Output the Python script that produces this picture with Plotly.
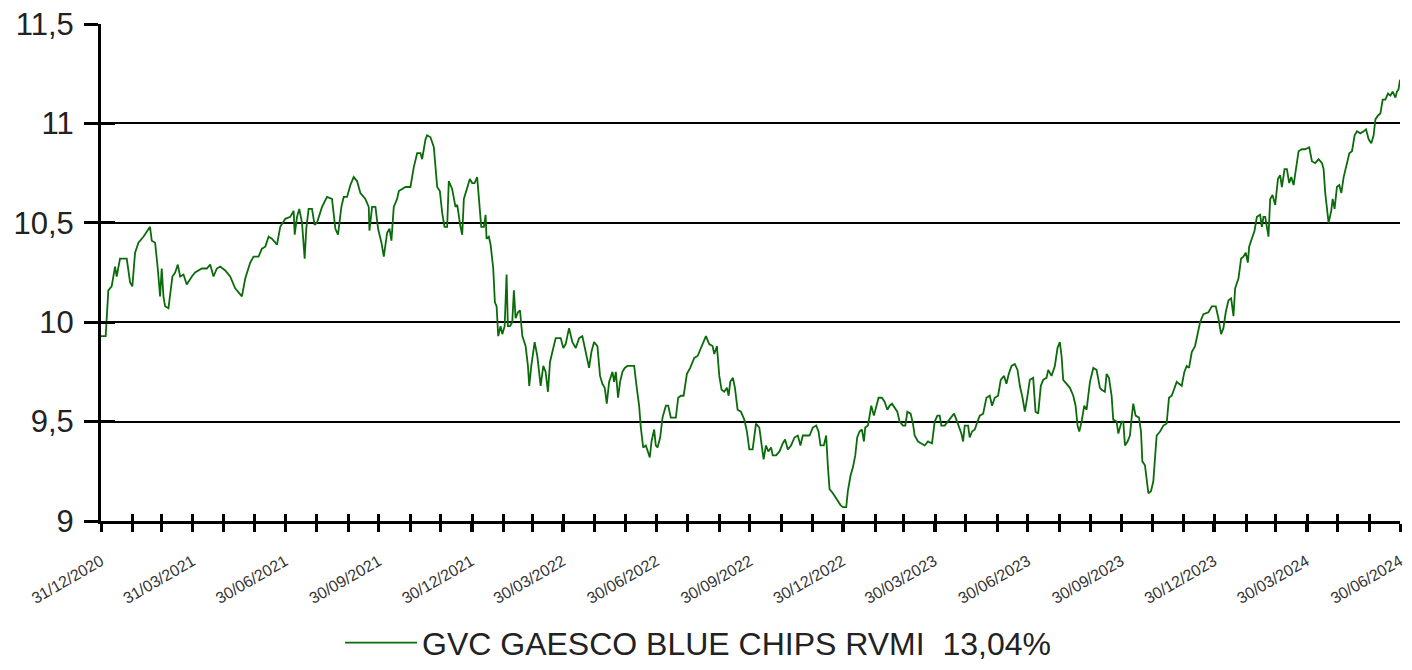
import pandas as pd
import plotly.graph_objects as go

# ---- data: (days since 31/12/2020, NAV) ----
seg_2021 = [(0,9.93),(4.6,9.93),(7.2,10.16),(10.5,10.18),(13.8,10.28),(15.4,10.23),(18.7,10.32),(25.3,10.32),
 (28.6,10.20),(30.8,10.18),(33.5,10.35),(36.8,10.40),(41.7,10.43),(46.6,10.47),(48.2,10.48),(49.9,10.41),
 (53.2,10.40),(55.8,10.27),(58.1,10.13),(59.7,10.27),(61.4,10.13),(63.0,10.08),(66.3,10.07),(70.2,10.23),
 (72.9,10.25),(75.5,10.29),(77.8,10.23),(81.1,10.24),(84.3,10.19),(89.3,10.23),(92.5,10.25),(99.1,10.27),
 (104.0,10.27),(107.3,10.29),(110.6,10.23),(113.9,10.27),(117.2,10.28),(122.1,10.26),(127.0,10.23),
 (131.9,10.17),(135.2,10.15),(138.5,10.13),(141.8,10.22),(146.7,10.30),(150.0,10.33),(154.9,10.33),
 (158.2,10.37),(161.5,10.38),(164.8,10.43),(168.0,10.42),(173.0,10.39),(176.2,10.48),(181.2,10.52),
 (186.1,10.53),(189.4,10.56),(190.4,10.44),(192.7,10.53),(194.9,10.57),(197.6,10.50),(200.2,10.32),
 (201.8,10.47),(204.1,10.57),(207.4,10.57),(210.0,10.49),(212.3,10.50),(217.3,10.58),(222.2,10.63),
 (227.1,10.62),(230.4,10.47),(233.0,10.44),(236.3,10.58),(238.6,10.63),(241.9,10.63),(245.2,10.69),
 (248.4,10.73),(251.7,10.71),(255.0,10.65),(259.9,10.62),(263.2,10.58),(263.9,10.46),(266.5,10.58),
 (269.8,10.58),(272.4,10.47),(275.7,10.40),(278.0,10.33),(281.3,10.45),(283.6,10.47),(285.5,10.41),
 (287.8,10.58),(291.1,10.62),(292.8,10.66),(299.3,10.68),(304.2,10.68),(307.5,10.78),(310.8,10.85),
 (314.1,10.85),(315.7,10.82),(319.0,10.92),(320.6,10.94),(323.9,10.93)]

seg_2022 = [(327.2,10.88),(328.8,10.80),(330.5,10.68),(333.1,10.66),(335.4,10.55),(337.7,10.48),(340.3,10.48),
 (341.9,10.71),(345.2,10.67),(348.5,10.58),(350.2,10.59),(353.4,10.48),(355.1,10.44),(356.7,10.62),
 (360.0,10.68),(362.6,10.72),(364.9,10.70),(367.2,10.70),(369.8,10.73),(372.1,10.57),(373.8,10.48),
 (376.4,10.48),(378.1,10.54),(379.0,10.42),(381.3,10.43),(383.0,10.39),(385.6,10.27),(387.2,10.10),
 (388.9,10.08),(390.5,9.93),(392.8,9.98),(394.5,9.94),(396.8,9.98),(398.7,10.24),(400.0,9.98),
 (402.0,9.98),(404.3,10.00),(405.9,10.16),(407.6,10.02),(409.9,10.05),(411.9,10.06),(414.2,9.93),
 (417.4,9.88),(419.7,9.78),(421.0,9.68),(423.0,9.78),(426.3,9.90),(428.9,9.83),(432.2,9.68),(434.8,9.78),
 (437.1,9.75),(439.4,9.65),(441.4,9.80),(443.7,9.85),(447.0,9.92),(451.9,9.92),(454.5,9.87),(456.8,9.89),
 (460.1,9.97),(463.4,9.90),(466.7,9.87),(470.0,9.92),(473.2,9.93),(476.5,9.85),(479.8,9.77),(482.1,9.85),
 (484.7,9.90),(488.0,9.88),(490.6,9.73),(492.9,9.69),(495.2,9.67),(497.2,9.59),(499.5,9.70),(502.8,9.75),
 (504.4,9.70),(506.1,9.75),(508.3,9.62),(510.3,9.70),(512.6,9.75),(514.9,9.77),(517.5,9.78),(520.8,9.78),
 (524.1,9.78),(526.7,9.67),(529.0,9.58),(530.7,9.47),(533.0,9.37),(535.6,9.38),(537.9,9.34),(539.5,9.32),
 (541.2,9.40),(543.8,9.46),(545.4,9.38),(547.1,9.37),(549.7,9.42),(552.0,9.52),(555.3,9.58),(557.6,9.58),
 (560.2,9.52),(565.1,9.52),(567.4,9.62),(570.1,9.63),(572.7,9.63),(576.0,9.74),(579.2,9.77),(583.2,9.82),
 (586.5,9.83),(589.7,9.87),(592.4,9.90),(594.7,9.93),(597.9,9.89),(601.2,9.88),(602.9,9.84),(605.5,9.88),
 (607.8,9.73),(610.1,9.66),(612.7,9.65),(615.3,9.67),(617.0,9.63),(618.6,9.70),(621.2,9.72),(623.2,9.67),
 (625.8,9.56),(629.1,9.55),(632.4,9.51),(635.0,9.45),(637.3,9.36),(640.6,9.36),(643.9,9.49),(647.2,9.47),
 (649.5,9.38),(651.4,9.31),(653.7,9.38),(656.0,9.35),(658.7,9.37)]

seg_2023 = [(660.4,9.33),(663.7,9.33),(667.0,9.35),(670.2,9.39),(672.5,9.41),(675.2,9.36),(678.4,9.38),
 (681.7,9.42),(685.0,9.43),(687.6,9.38),(689.9,9.43),(693.2,9.43),(696.5,9.43),(699.8,9.47),(703.1,9.48),
 (705.4,9.45),(707.3,9.38),(710.6,9.38),(712.9,9.43),(714.5,9.28),(716.2,9.16),(719.5,9.14),(721.8,9.12),
 (724.4,9.10),(727.0,9.08),(729.3,9.07),(732.6,9.07),(734.2,9.15),(736.9,9.23),(739.2,9.27),(741.5,9.33),
 (743.4,9.42),(745.7,9.45),(748.0,9.46),(750.0,9.40),(751.3,9.47),(753.9,9.48),(755.6,9.53),(757.2,9.58),
 (759.8,9.53),(762.1,9.57),(764.4,9.62),(767.7,9.62),(770.3,9.60),(773.0,9.56),(775.3,9.58),(777.6,9.59),
 (780.2,9.57),(782.8,9.55),(785.1,9.50),(788.4,9.48),(790.7,9.48),(792.7,9.55),(795.9,9.54),(798.2,9.49),
 (799.9,9.43),(803.2,9.40),(806.4,9.39),(809.7,9.38),(813.0,9.40),(816.9,9.39),(819.6,9.50),(822.2,9.53),
 (824.5,9.53),(826.1,9.48),(829.4,9.48),(832.7,9.50),(835.3,9.52),(838.6,9.54),(840.9,9.51),(843.2,9.48),
 (845.8,9.44),(847.5,9.40),(849.1,9.48),(852.4,9.48),(854.0,9.42),(856.3,9.45),(859.0,9.46),(861.6,9.50),
 (863.9,9.53),(867.2,9.54),(870.4,9.62),(873.7,9.63),(876.0,9.58),(878.6,9.62),(881.9,9.63),(884.5,9.71),
 (887.8,9.73),(890.1,9.69),(892.4,9.74),(895.1,9.78),(898.3,9.79),(901.0,9.76),(903.3,9.68),(905.9,9.62),
 (908.2,9.55),(910.5,9.62),(913.1,9.71),(916.4,9.72),(918.7,9.55),(921.3,9.54),(923.9,9.68),(926.2,9.71),
 (929.5,9.72),(931.2,9.76),(934.4,9.73),(937.7,9.78),(940.3,9.87),(942.6,9.90),(944.3,9.83),(945.9,9.71),
 (949.2,9.69),(952.5,9.67),(955.8,9.63),(958.1,9.58),(960.0,9.48),(961.7,9.45),(964.0,9.50),(966.6,9.58),
 (968.9,9.56),(972.2,9.70),(975.5,9.77),(978.7,9.76),(982.0,9.67),(983.7,9.66)]

seg_2024 = [(986.9,9.65),(988.6,9.74),(990.9,9.72),(993.5,9.63),(995.1,9.51),(998.4,9.50),(1000.1,9.44),
 (1003.3,9.50),(1005.0,9.50),(1006.6,9.38),(1009.2,9.40),(1011.5,9.43),(1013.2,9.52),(1014.8,9.59),
 (1017.1,9.53),(1020.4,9.52),(1022.4,9.45),(1023.7,9.30),(1026.3,9.28),(1028.0,9.22),(1029.6,9.14),
 (1032.2,9.15),(1034.5,9.20),(1036.2,9.32),(1037.8,9.43),(1041.1,9.45),(1044.4,9.48),(1047.6,9.49),
 (1049.9,9.62),(1052.6,9.63),(1055.2,9.67),(1057.5,9.70),(1059.8,9.69),(1062.4,9.68),(1065.0,9.75),
 (1067.3,9.78),(1069.6,9.77),(1072.3,9.85),(1075.5,9.88),(1078.2,9.95),(1080.5,10.00),(1083.7,10.04),
 (1088.7,10.05),(1092.0,10.08),(1095.9,10.08),(1098.5,10.02),(1101.1,9.94),(1103.4,9.97),(1105.7,10.05),
 (1108.4,10.11),(1111.0,10.12),(1113.3,10.03),(1114.9,10.17),(1118.2,10.22),(1120.8,10.32),(1123.1,10.33),
 (1125.4,10.35),(1127.4,10.30),(1128.7,10.38),(1131.3,10.42),(1134.0,10.46),(1136.3,10.53),(1139.5,10.54),
 (1141.2,10.48),(1142.8,10.53),(1144.5,10.53),(1146.1,10.48),(1147.7,10.43),(1149.4,10.62),(1151.7,10.64),
 (1154.3,10.59),(1157.0,10.72),(1159.2,10.74),(1160.9,10.68),(1163.5,10.77),(1165.8,10.77),(1168.1,10.70),
 (1170.1,10.73),(1172.4,10.69),(1174.7,10.76),(1177.3,10.86),(1180.6,10.87),(1183.8,10.87),(1187.8,10.88),
 (1190.4,10.81),(1193.7,10.80),(1197.0,10.82),(1200.3,10.80),(1201.9,10.77),(1203.5,10.65),(1205.2,10.57),
 (1206.8,10.50),(1209.4,10.56),(1210.8,10.62),(1212.7,10.57),(1215.0,10.68),(1217.3,10.69),(1219.3,10.65),
 (1221.6,10.73),(1224.9,10.80),(1227.2,10.85),(1229.8,10.86),(1232.4,10.94),(1234.7,10.96),(1238.0,10.95),
 (1241.3,10.96),(1243.6,10.97),(1246.2,10.92),(1248.8,10.90),(1251.1,10.94),(1252.8,11.02),(1255.4,11.04),
 (1257.7,11.05),(1260.0,11.12),(1262.6,11.12),(1265.2,11.15),(1267.5,11.14),(1269.8,11.16),(1272.5,11.13),
 (1274.0,11.16),(1275.5,11.17),(1277.0,11.22)]

start_date = "2020-12-31"
end_date = "2024-06-30"
x_tick_labels = ["31/12/2020", "31/03/2021", "30/06/2021", "30/09/2021", "30/12/2021",
                 "30/03/2022", "30/06/2022", "30/09/2022", "30/12/2022", "30/03/2023",
                 "30/06/2023", "30/09/2023", "30/12/2023", "30/03/2024", "30/06/2024"]
y_tick_values = [9, 9.5, 10, 10.5, 11, 11.5]
y_tick_labels = ["9", "9,5", "10", "10,5", "11", "11,5"]
series_name = "GVC GAESCO BLUE CHIPS RVMI\u00a0 13,04%"

# ---- build ----
pts = seg_2021 + seg_2022 + seg_2023 + seg_2024
start = pd.Timestamp(start_date)
dates = [start + pd.Timedelta(days=d) for d, _ in pts]
vals = [v for _, v in pts]

major_ticks = list(pd.to_datetime(x_tick_labels, dayfirst=True))
month_ticks = list(pd.date_range(start_date, end_date, freq="ME"))
xrange = [start, pd.Timestamp(end_date)]
yrange = [9, 11.5]

FONT = "Liberation Sans, Arial, sans-serif"
GREEN = "#0b6b0b"

fig = go.Figure()
fig.add_trace(go.Scatter(x=dates, y=vals, mode="lines", name=series_name,
                         line=dict(color=GREEN, width=1.8), hoverinfo="skip"))
# helper traces to create overlay axes (inside tick halves)
fig.add_trace(go.Scatter(x=[None], y=[None], xaxis="x2", yaxis="y", showlegend=False, hoverinfo="skip"))
fig.add_trace(go.Scatter(x=[None], y=[None], xaxis="x", yaxis="y2", showlegend=False, hoverinfo="skip"))

fig.update_layout(
    width=1412, height=670,
    margin=dict(l=101, r=12, t=24, b=149, autoexpand=False),
    paper_bgcolor="white", plot_bgcolor="white",
    separators=",.",
    font=dict(family=FONT, color="#222222"),
    xaxis=dict(type="date", range=xrange, showgrid=False, zeroline=False, automargin=False,
               showline=True, linecolor="black", linewidth=3,
               tickmode="array", tickvals=major_ticks, ticktext=x_tick_labels,
               ticks="outside", ticklen=8, tickwidth=3, tickcolor="black",
               tickangle=-30, tickfont=dict(size=16, color="#333333", family=FONT),
               ticklabelstandoff=14,
               minor=dict(tickmode="array", tickvals=month_ticks, ticks="outside",
                          ticklen=8, tickwidth=3, tickcolor="black", showgrid=False)),
    xaxis2=dict(type="date", range=xrange, overlaying="x", anchor="y", side="bottom",
                showgrid=False, zeroline=False, showline=False, showticklabels=False,
                automargin=False,
                tickmode="array", tickvals=month_ticks, ticks="inside", ticklen=7,
                tickwidth=3, tickcolor="black"),
    yaxis=dict(range=yrange, tickmode="array", tickvals=y_tick_values, ticktext=y_tick_labels,
               showgrid=True, gridcolor="black", gridwidth=1.6, zeroline=False, automargin=False,
               showline=True, linecolor="black", linewidth=3,
               ticks="outside", ticklen=14, tickwidth=3, tickcolor="black",
               tickfont=dict(size=31, color="#222222", family=FONT), ticklabelstandoff=4),
    yaxis2=dict(range=yrange, overlaying="y", anchor="x", side="left", automargin=False,
                tickmode="array", tickvals=y_tick_values, showticklabels=False,
                showgrid=False, zeroline=False, showline=False,
                ticks="inside", ticklen=14, tickwidth=3, tickcolor="black"),
    showlegend=True,
    legend=dict(orientation="h", x=0.184, xanchor="left", y=-0.245, yanchor="middle",
                itemwidth=72,
                font=dict(size=32, color="#222222", family=FONT), bgcolor="rgba(0,0,0,0)"),
)

fig.write_html("out.html", config={"displayModeBar": False},
               post_script="document.body.style.margin='0';")
